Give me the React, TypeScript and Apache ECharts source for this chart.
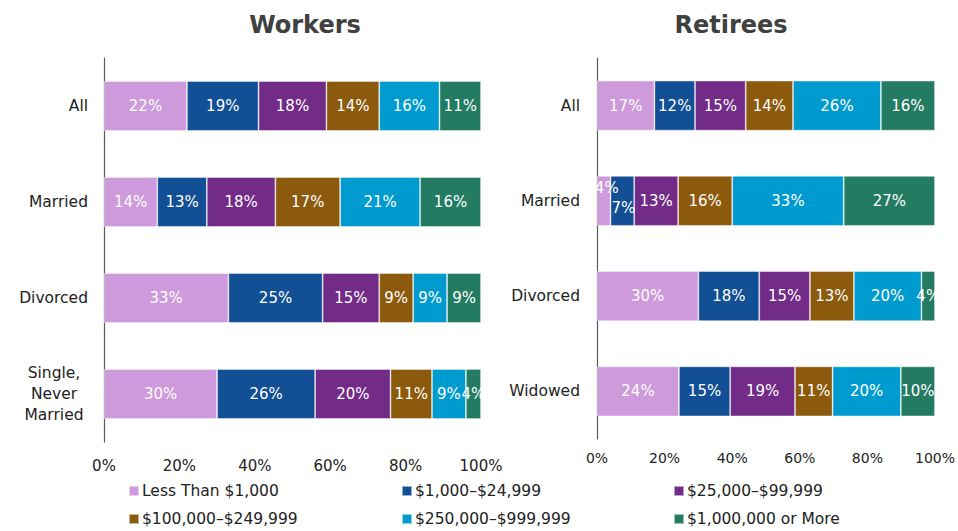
import React, { useEffect, useRef } from 'react';
import * as echarts from 'echarts';

const seriesNames = [
  'Less Than $1,000',
  '$1,000–$24,999',
  '$25,000–$99,999',
  '$100,000–$249,999',
  '$250,000–$999,999',
  '$1,000,000 or More',
];
const colors = ['#CE9ADC', '#124F94', '#722B87', '#8C5A0D', '#009BCE', '#237B62'];

const workerCategories = ['All', 'Married', 'Divorced', 'Single, Never Married'];
// one array per savings band, in category order
const workerLess1k = [22, 14, 33, 30];
const worker1kTo25k = [19, 13, 25, 26];
const worker25kTo100k = [18, 18, 15, 20];
const worker100kTo250k = [14, 17, 9, 11];
const worker250kTo1m = [16, 21, 9, 9];
const worker1mPlus = [11, 16, 9, 4];

const retireeCategories = ['All', 'Married', 'Divorced', 'Widowed'];
const retireeLess1k = [17, 4, 30, 24];
const retiree1kTo25k = [12, 7, 18, 15];
const retiree25kTo100k = [15, 13, 15, 19];
const retiree100kTo250k = [14, 16, 13, 11];
const retiree250kTo1m = [26, 33, 20, 20];
const retiree1mPlus = [16, 27, 4, 10];

const xTicks = [0, 20, 40, 60, 80, 100];

const workerValues = [workerLess1k, worker1kTo25k, worker25kTo100k, worker100kTo250k, worker250kTo1m, worker1mPlus];
const retireeValues = [retireeLess1k, retiree1kTo25k, retiree25kTo100k, retiree100kTo250k, retiree250kTo1m, retiree1mPlus];

const FONT = 'DejaVu Sans';

function totals(vals: number[][]) {
  return vals[0].map((_, i) => vals.reduce((s, arr) => s + arr[i], 0));
}

// label offsets for crowded segments (style only)
const retireeLabelOffsets: Record<string, [number, number]> = {
  '0-1': [3, -13],
  '1-1': [1, 7],
};

// legend placement: [left, top] per series (style only)
const legendPos: [number, number][] = [
  [128, 482],
  [401, 482],
  [673, 482],
  [128, 510],
  [401, 510],
  [673, 510],
];

function buildSeries(vals: number[][], gridIdx: number, offsets: Record<string, [number, number]>) {
  const tot = totals(vals);
  return vals.map((arr, s) => ({
    name: seriesNames[s],
    type: 'bar',
    stack: 'g' + gridIdx,
    xAxisIndex: gridIdx,
    yAxisIndex: gridIdx,
    barWidth: 50,
    itemStyle: { color: colors[s], borderColor: 'rgba(255,255,255,0.55)', borderWidth: 0.8 },
    label: {
      show: true,
      position: 'inside',
      color: '#ffffff',
      fontFamily: FONT,
      fontSize: 15,
      formatter: (p: any) => arr[p.dataIndex] + '%',
    },
    data: arr.map((v, i) => {
      const off = offsets[s + '-' + i];
      const item: any = { value: (v / tot[i]) * 100 };
      if (off) item.label = { offset: off };
      return item;
    }),
  }));
}

export default function App() {
  const ref = useRef<HTMLDivElement>(null);
  useEffect(() => {
    document.body.style.margin = '0';
    if (!ref.current) return;
    const chart = echarts.init(ref.current, null, { renderer: 'svg' });

    const yAxisCommon = (cats: string[], idx: number, margin: number) => ({
      type: 'category',
      gridIndex: idx,
      data: cats,
      inverse: true,
      axisTick: { show: false },
      axisLine: { show: true, lineStyle: { color: '#595959', width: 1.2 } },
      axisLabel: {
        margin,
        color: '#222',
        fontFamily: FONT,
        fontSize: 15.5,
        formatter: (v: string) =>
          v === 'Single, Never Married' ? '{c|Single,}\n{c|Never}\n{c|Married}' : v,
        rich: {
          c: { width: 68, align: 'center', fontFamily: FONT, fontSize: 15.5, color: '#222', lineHeight: 21 },
        },
      },
    });

    const xAxisCommon = (idx: number, fs: number, margin: number) => ({
      type: 'value',
      gridIndex: idx,
      min: xTicks[0],
      max: xTicks[xTicks.length - 1],
      interval: xTicks[1] - xTicks[0],
      splitLine: { show: false },
      axisLine: { show: false },
      axisTick: { show: false },
      axisLabel: {
        margin,
        color: '#222',
        fontFamily: FONT,
        fontSize: fs,
        formatter: (v: number) => v + '%',
      },
    });

    const legends = seriesNames.map((name, i) => ({
      orient: 'horizontal',
      left: legendPos[i][0],
      top: legendPos[i][1],
      padding: 0,
      itemWidth: 10,
      itemHeight: 10,
      itemGap: 0,
      icon: 'rect',
      data: [name],
      textStyle: { fontFamily: FONT, fontSize: 15.5, color: '#222', lineHeight: 18, padding: [0, 0, 0, -2] },
    }));

    chart.setOption({
      animation: false,
      backgroundColor: '#ffffff',
      graphic: [
        {
          type: 'text',
          x: 305,
          y: 25,
          style: { text: 'Workers', fontFamily: FONT, fontSize: 24, fontWeight: 'bold', fill: '#404040', align: 'center', verticalAlign: 'middle' },
        },
        {
          type: 'text',
          x: 731,
          y: 25,
          style: { text: 'Retirees', fontFamily: FONT, fontSize: 24, fontWeight: 'bold', fill: '#404040', align: 'center', verticalAlign: 'middle' },
        },
      ],
      grid: [
        { left: 104, right: 958 - 481, top: 58, height: 384 },
        { left: 597, right: 958 - 937, top: 58, height: 381 },
      ],
      xAxis: [xAxisCommon(0, 15, 16), xAxisCommon(1, 14, 12)],
      yAxis: [yAxisCommon(workerCategories, 0, 16), yAxisCommon(retireeCategories, 1, 17)],
      legend: legends,
      series: [
        ...buildSeries(workerValues, 0, {}),
        ...buildSeries(retireeValues, 1, retireeLabelOffsets),
      ],
    });
    return () => chart.dispose();
  }, []);
  return <div ref={ref} style={{ width: 958, height: 531 }} />;
}
